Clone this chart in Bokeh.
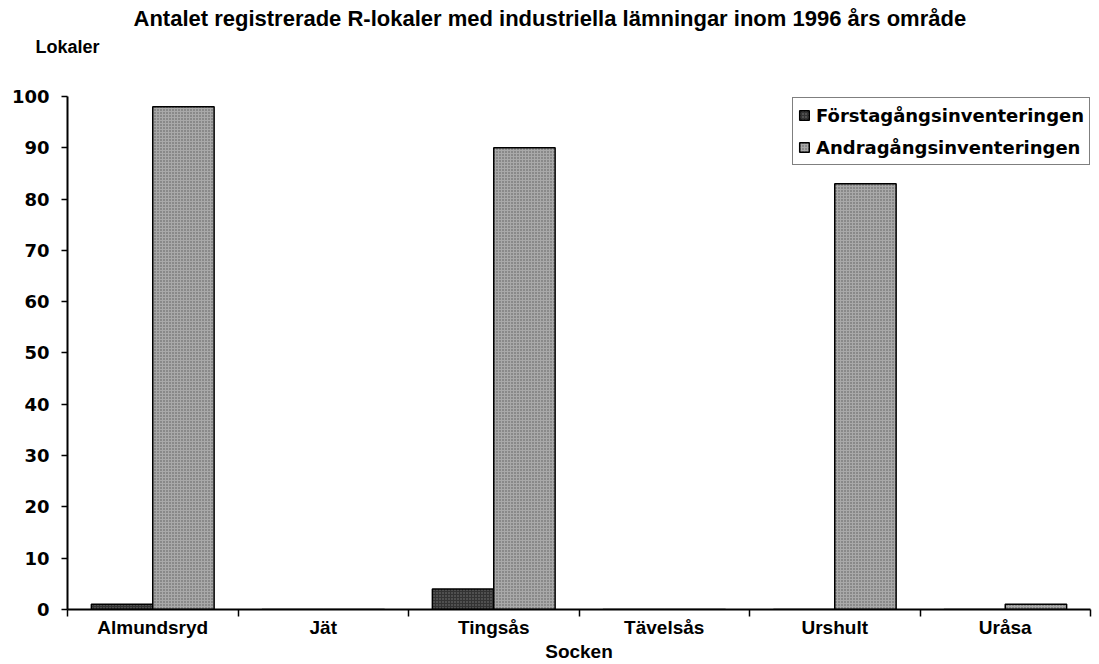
from bokeh.plotting import figure
from bokeh.models import (Range1d, FixedTicker, ColumnDataSource, Legend, LegendItem, Title)
from bokeh.embed import file_html
from bokeh.resources import INLINE

title_text = "Antalet registrerade R-lokaler med industriella lämningar inom 1996 års område"
y_label = "Lokaler"
x_label = "Socken"
categories = ["Almundsryd", "Jät", "Tingsås", "Tävelsås", "Urshult", "Uråsa"]
series_names = ["Förstagångsinventeringen", "Andragångsinventeringen"]
forsta = [1, 0, 4, 0, 0, 0]
andra = [98, 0, 90, 0, 83, 1]
y_ticks = list(range(0, 101, 10))

n = len(categories)
bw = 0.36
centers = [i + 0.5 for i in range(n)]
src1 = ColumnDataSource(dict(x=[c - bw / 2 for c in centers], top=forsta))
src2 = ColumnDataSource(dict(x=[c + bw / 2 for c in centers], top=andra))

p = figure(width=1099, height=664, output_backend="svg", toolbar_location=None,
           x_range=Range1d(0, n), y_range=Range1d(0, 107),
           min_border_left=67, min_border_right=9, min_border_top=60, min_border_bottom=52)
p.outline_line_color = None
p.xgrid.visible = False
p.ygrid.visible = False

r1 = p.vbar(x="x", top="top", width=bw, source=src1, fill_color="#333333",
            line_color="black", line_width=1.5,
            hatch_pattern="dot", hatch_color="#7a7a7a", hatch_scale=3, hatch_weight=1)
r2 = p.vbar(x="x", top="top", width=bw, source=src2, fill_color="#a9a9a9",
            line_color="black", line_width=1.5,
            hatch_pattern="dot", hatch_color="#5a5a5a", hatch_scale=3, hatch_weight=1)

# x axis
xa = p.xaxis[0]
xa.ticker = FixedTicker(ticks=centers, minor_ticks=list(range(n + 1)))
xa.major_label_overrides = {c: lab for c, lab in zip(centers, categories)}
xa.major_tick_line_color = None
xa.minor_tick_line_color = "black"
xa.minor_tick_line_width = 1.5
xa.minor_tick_out = 7
xa.minor_tick_in = 0
xa.axis_line_color = "black"
xa.axis_line_width = 2
xa.major_label_text_font = "Liberation Sans"
xa.major_label_text_font_style = "bold"
xa.major_label_text_font_size = "19px"
xa.major_label_text_color = "black"
xa.major_label_standoff = 0
xa.axis_label = x_label
xa.axis_label_text_font = "Liberation Sans"
xa.axis_label_text_font_style = "bold"
xa.axis_label_text_font_size = "19px"
xa.axis_label_text_color = "black"
xa.axis_label_standoff = 0

# y axis
ya = p.yaxis[0]
ya.ticker = FixedTicker(ticks=y_ticks, minor_ticks=[])
ya.bounds = (0, 100)
ya.major_tick_out = 6
ya.major_tick_in = 0
ya.major_tick_line_width = 1.5
ya.axis_line_width = 2
ya.axis_line_color = "black"
ya.major_label_text_font = "DejaVu Sans"
ya.major_label_text_font_style = "bold"
ya.major_label_text_font_size = "18px"
ya.major_label_text_color = "black"
ya.major_label_standoff = 12

p.title.text = title_text
p.title.align = "left"
p.title.offset = 66
p.title.text_font = "Liberation Sans"
p.title.text_font_style = "bold"
p.title.text_font_size = "22px"
p.title.text_color = "black"
p.title.standoff = 0

sub = Title(text=y_label, align="left", offset=-32, text_font="Liberation Sans",
            text_font_style="bold", text_font_size="18px", text_color="black", standoff=8)
p.add_layout(sub, "above")

legend = Legend(items=[LegendItem(label=series_names[0], renderers=[r1]),
                       LegendItem(label=series_names[1], renderers=[r2])],
                location=(725, 444))
legend.label_text_font = "DejaVu Sans"
legend.label_text_font_style = "bold"
legend.label_text_font_size = "18px"
legend.label_text_color = "black"
legend.glyph_width = 12
legend.glyph_height = 12
legend.label_standoff = 6
legend.label_height = 24
legend.padding = 5
legend.spacing = 8
legend.margin = 0
legend.border_line_color = "black"
legend.border_line_width = 1.5
legend.background_fill_alpha = 1
p.add_layout(legend)

open("out.html", "w").write(file_html(p, INLINE))
